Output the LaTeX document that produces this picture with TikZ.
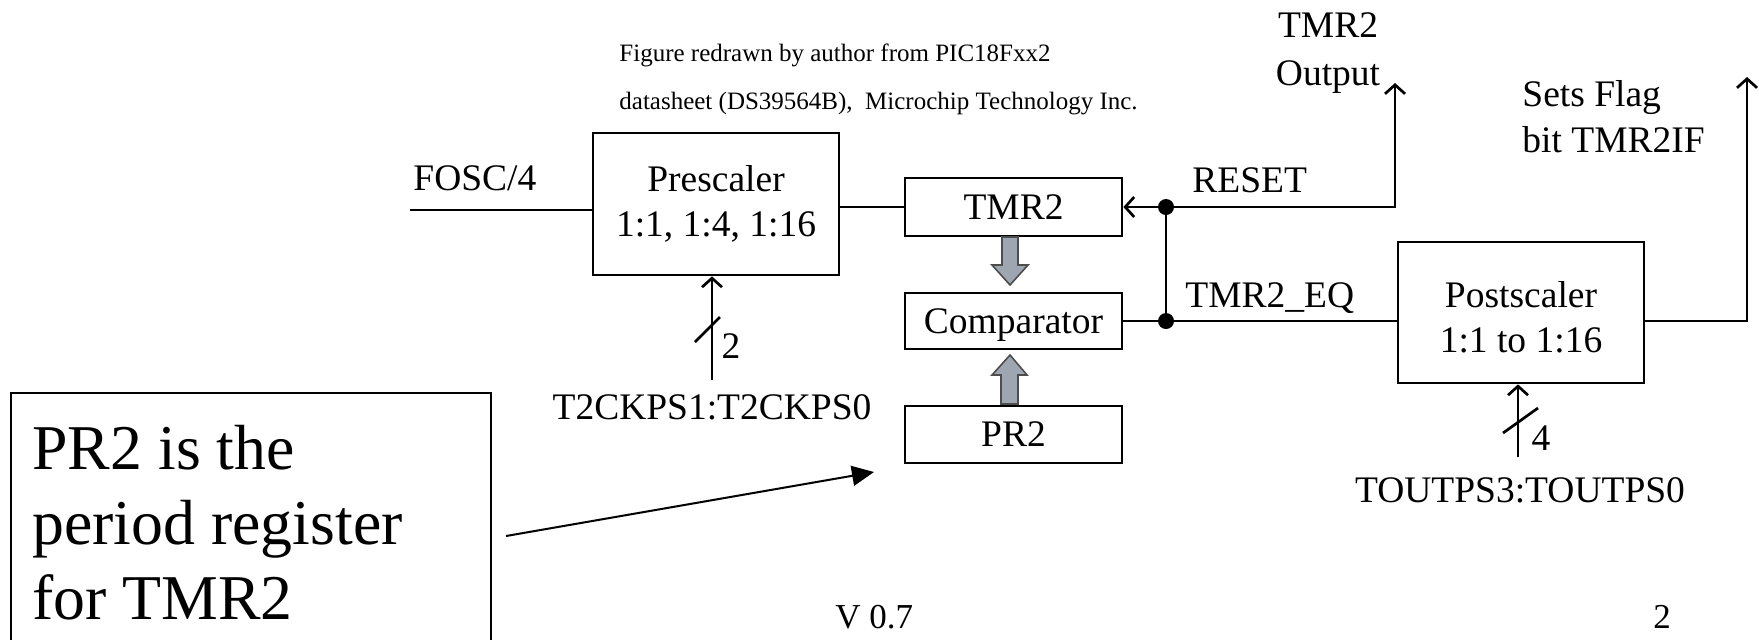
\documentclass[tikz,border=0pt]{standalone}
\usepackage{fontspec}
\setmainfont{Liberation Serif}
\usetikzlibrary{arrows.meta,calc}

\definecolor{busgray}{HTML}{9EA6B2}
\definecolor{busedge}{HTML}{4D4D4D}

\begin{document}
\begin{tikzpicture}[x=0.5pt,y=-0.5pt,
  lbl/.style={inner sep=0pt, font=\fontsize{18.75pt}{22.5pt}\selectfont},
  blk/.style={draw, line width=1.35pt, inner sep=0pt, align=center,
              font=\fontsize{18.75pt}{22.5pt}\selectfont},
  reg/.style={blk, minimum width=108.5pt, text height=12pt, text depth=0pt},
  wire/.style={line width=1.35pt},
  sig/.style={wire, -{Straight Barb[length=4.5pt,width=10pt]}},
  bus/.style={draw=busedge, fill=busgray, line width=0.8pt, line join=miter},
  dot/.style={circle, fill, inner sep=0pt, minimum size=8pt},
  notetext/.style={anchor=base west, inner sep=0pt, font=\fontsize{31.9pt}{37.5pt}\selectfont},
]
\useasboundingbox (0,0) rectangle (1759,639);

% timer blocks
\node[blk, minimum width=123pt, minimum height=71pt] (pre) at (716,204) {Prescaler\\1:1, 1:4, 1:16};
\node[reg, minimum height=29pt] (tmr) at (1013.5,207) {TMR2};
\node[reg, minimum height=28pt] (cmp) at (1013.5,321) {Comparator};
\node[reg, minimum height=28.5pt] (pr2) at (1013.5,434.5) {PR2};
\node[blk, minimum width=123pt, minimum height=70.5pt] (post) at (1521,312.5) {Postscaler\rule{0pt}{17.3pt}\\1:1 to 1:16};

% junctions and free ends
\node[dot] (j1) at (1166,207) {};
\node[dot] (j2) at (1166,321) {};
\coordinate (fin) at (410,210);
\coordinate (tout) at (1395,83);
\coordinate (fout) at (1747,77);
\coordinate (cks) at (712,380);
\coordinate (tps) at (1518,457);
\coordinate (ptr0) at (506,536);
\coordinate (ptr1) at (874,472);

% signal wiring
\draw[wire] (fin) -- (fin -| pre.west);
\draw[wire] (pre.east |- tmr.west) -- (tmr.west);
\draw[sig] (j1) -- (tmr.east);
\draw[wire] (j1) -- (j2);
\draw[wire] (cmp.east) -- (cmp.east -| post.west);
\draw[sig] (j1) -| (tout);
\draw[sig] (post.east |- cmp.east) -| (fout);

% select buses with width marks
\draw[sig] (cks) -- (cks |- pre.south);
\draw[wire] ($(cks)+(-17,-38)$) -- ($(cks)+(8,-63)$);
\draw[sig] (tps) -- (tps |- post.south);
\draw[wire] ($(tps)+(-15,-24)$) -- ($(tps)+(20,-49)$);

% data paths into the comparator
\draw[bus] (1002,237) -- (1018,237) -- (1018,265) -- (1028,265) -- (1010,285)
           -- (992,265) -- (1002,265) -- cycle;
\draw[bus] (1001,404) -- (1018,404) -- (1018,375) -- (1027,375) -- (1010,355)
           -- (992,375) -- (1001,375) -- cycle;

% labels
\node[lbl, anchor=base west] (fosc) at (413,190) {FOSC/4};
\node[lbl, anchor=base west] (rst) at (1192,192) {RESET};
\node[lbl, anchor=base west] (eq) at (1185,307) {TMR2\_EQ};
\node[lbl, anchor=north, align=center, font=\fontsize{18.75pt}{24pt}\selectfont] (outl) at (1328,12) {TMR2\\Output};
\node[lbl, anchor=north west, align=left, font=\fontsize{18.75pt}{23pt}\selectfont] (flag) at (1522,80) {Sets Flag\\bit TMR2IF};
\node[lbl, anchor=base] (w2) at (731,358) {2};
\node[lbl, anchor=base] (ckl) at (712,419) {T2CKPS1:T2CKPS0};
\node[lbl, anchor=base] (w4) at (1541,450) {4};
\node[lbl, anchor=base] (psl) at (1520,502) {TOUTPS3:TOUTPS0};

\node[anchor=north west, align=left, inner sep=0pt, font=\fontsize{12.5pt}{24pt}\selectfont] (src) at (619,43)
  {Figure redrawn by author from PIC18Fxx2\\datasheet (DS39564B),\ \ Microchip Technology Inc.};

% explanatory note
\node[draw, line width=0.85pt, minimum width=240pt, minimum height=150pt, anchor=north west, inner sep=0pt] (note) at (10,392) {};
\node[notetext] (n1) at (32,469) {PR2 is the};
\node[notetext] (n2) at (32,544) {period register};
\node[notetext] (n3) at (32,619) {for TMR2};
\draw[line width=1pt, -{Triangle[length=11pt,width=10pt]}] (ptr0) -- (ptr1);

% footer
\node[anchor=base west, inner sep=0pt, font=\fontsize{17.5pt}{20pt}\selectfont] (ver) at (835,628) {V 0.7};
\node[anchor=base west, inner sep=0pt, font=\fontsize{17.5pt}{20pt}\selectfont] (pg) at (1653,628) {2};
\end{tikzpicture}
\end{document}
